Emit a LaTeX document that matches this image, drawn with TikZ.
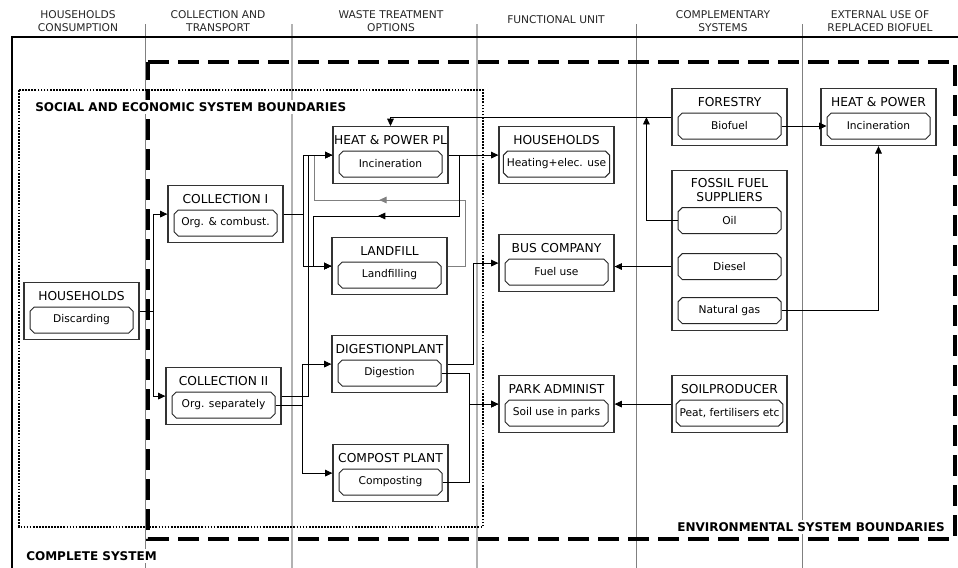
\documentclass[tikz,border=0pt]{standalone}
\usepackage{fontspec}
\setmainfont{DejaVu Sans}
\usetikzlibrary{arrows.meta,positioning,shapes.misc,decorations.markings}

\begin{document}
\begin{tikzpicture}[x=0.75pt, y=-0.75pt, >={Triangle[length=5.5pt,width=5pt]},
  unitbox/.style={draw=black!80, line width=0.9pt, fill=white, minimum width=86.25pt, minimum height=42.75pt, inner sep=0pt},
  flowbox/.style={chamfered rectangle, chamfered rectangle xsep=1.6pt, chamfered rectangle ysep=1.6pt, draw=black!85, line width=0.75pt, minimum width=77.25pt, minimum height=19.5pt, inner sep=1pt, font=\fontsize{8}{9.6}\selectfont},
  unittitle/.style={inner sep=0pt, font=\fontsize{9.2}{10.5}\selectfont},
  colhead/.style={align=center, font=\fontsize{8}{9.75}\selectfont, text=black!85},
  bndlabel/.style={font=\fontsize{9}{11}\selectfont\bfseries, fill=white, inner sep=1.5pt},
  colline/.style={gray, line width=0.6pt},
  flow/.style={->, line width=0.6pt},
  midarrow/.style={postaction={decorate}, decoration={markings, mark=at position #1 with {\arrow{Triangle[length=5.5pt,width=5pt]}}}}
]
  \useasboundingbox (0,0) rectangle (958,568);

  % columns
  \foreach \cx in {145,636,802} \draw[colline] (\cx,24) -- (\cx,568);
  \foreach \cx in {292,477} \draw[colline, black!30, line width=1.2pt] (\cx,24) -- (\cx,568);
  \node[colhead] (hd1) at (78,21) {HOUSEHOLDS\\CONSUMPTION};
  \node[colhead] (hd2) at (218,21) {COLLECTION AND\\TRANSPORT};
  \node[colhead] (hd3) at (391,21) {WASTE TREATMENT\\OPTIONS};
  \node[colhead] (hd4) at (556,20) {FUNCTIONAL UNIT};
  \node[colhead] (hd5) at (723,21) {COMPLEMENTARY\\SYSTEMS};
  \node[colhead] (hd6) at (880,21) {EXTERNAL USE OF\\REPLACED BIOFUEL};

  % system boundaries
  \draw[line width=1.7pt] (12,568) -- (12,37) -- (958,37);
  \draw[line width=2.6pt, dash pattern=on 15.75pt off 6.75pt] (148,62) -- (955,62) -- (955,539) -- (148,539) -- cycle;
  \draw[line width=1.3pt, densely dotted] (19,90) rectangle (483,527);

  % units
  \foreach \nm/\cx/\cy/\ttl/\flw in {
    hh/81.5/282/HOUSEHOLDS/Discarding,
    col1/225.5/185/COLLECTION I/{Org. \& combust.},
    col2/223.5/367/COLLECTION II/{Org. separately},
    hpp/390.5/126/HEAT \& POWER PL/Incineration,
    lf/389.5/237/LANDFILL/Landfilling,
    dig/389.5/335/DIGESTIONPLANT/Digestion,
    comp/390.5/444/COMPOST PLANT/Composting,
    hhf/556.5/126/HOUSEHOLDS/{Heating+elec. use},
    bus/556.5/234/BUS COMPANY/Fuel use,
    park/556.5/375/PARK ADMINIST/{Soil use in parks},
    forest/729.5/88/FORESTRY/Biofuel,
    hpx/878.5/88/HEAT \& POWER/Incineration,
    soil/729.5/375/SOILPRODUCER/{Peat, fertilisers etc}}{
    \node[unitbox, anchor=north] (\nm) at (\cx,\cy) {};
    \node[unittitle] (\nm-t) at ([yshift=-10.5pt]\nm.north) {\ttl};
    \node[flowbox] (\nm-i) at ([yshift=-28.5pt]\nm.north) {\flw};
  }
  \node[unitbox, anchor=north, minimum height=120pt] (fossil) at (729.5,170) {};
  \node[unittitle, align=center] (fossil-t) at ([yshift=-15pt]fossil.north) {FOSSIL FUEL\\SUPPLIERS};
  \node[flowbox] (oil) at ([yshift=-37.9pt]fossil.north) {Oil};
  \node[flowbox] (diesel) at ([yshift=-72.4pt]fossil.north) {Diesel};
  \node[flowbox] (gas) at ([yshift=-105.4pt]fossil.north) {Natural gas};

  % flows
  \coordinate (gasret) at (314,200);
  \coordinate (ashret) at (313,216);
  \draw[line width=0.6pt, gray, midarrow=0.57] (lf.east) -- ++(18,0) |- (gasret) |- (hpp.west);
  \draw[flow, midarrow=0.535] (hpp.east) -- ++(11,0) |- (ashret) |- (lf.west);
  \draw[flow] (hh.east) -- ++(14,0) |- (col1.west);
  \draw[flow] (hh.east) -- ++(14,0) |- (col2.west);
  \draw[flow] (col1.east) -- ++(20,0) |- (hpp.west);
  \draw[flow] (col1.east) -- ++(20,0) |- (lf.west);
  \draw[flow] (col2.east) -- ++(27,0) |- (hpp.west);
  \draw[flow] (col2.east) -- ++(27,0) |- (lf.west);
  \draw[flow] (col2-i.east) -- ++(27,0) |- (dig.west);
  \draw[flow] (col2-i.east) -- ++(27,0) |- (comp.west);
  \draw[flow] (hpp.east) -- (hhf.west);
  \draw[flow] (dig.east) -- ++(26,0) |- (bus.west);
  \draw[flow] (dig-i.east) -| ([xshift=-21.75pt]park.west) -- (park.west);
  \draw[flow] (comp-i.east) -| ([xshift=-21.75pt]park.west) -- (park.west);
  \draw[flow] (forest.west) -| (hpp.north);
  \draw[flow] (oil.west) -| ([xshift=-18.75pt]forest.west);
  \draw[flow] (diesel.west -| fossil.west) -- (diesel.west -| bus.east);
  \draw[flow] (gas.east) -| (hpx.south);
  \draw[flow] (forest-i.east) -- (hpx-i.west);
  \draw[flow] (soil.west) -- (park.east);

  % boundary labels
  \node[bndlabel, anchor=west] (soclab) at (33,107) {SOCIAL AND ECONOMIC SYSTEM BOUNDARIES};
  \node[bndlabel, anchor=east] (envlab) at (947,527) {ENVIRONMENTAL SYSTEM BOUNDARIES};
  \node[bndlabel, anchor=west] (cmplab) at (24,556) {COMPLETE SYSTEM};
\end{tikzpicture}
\end{document}
